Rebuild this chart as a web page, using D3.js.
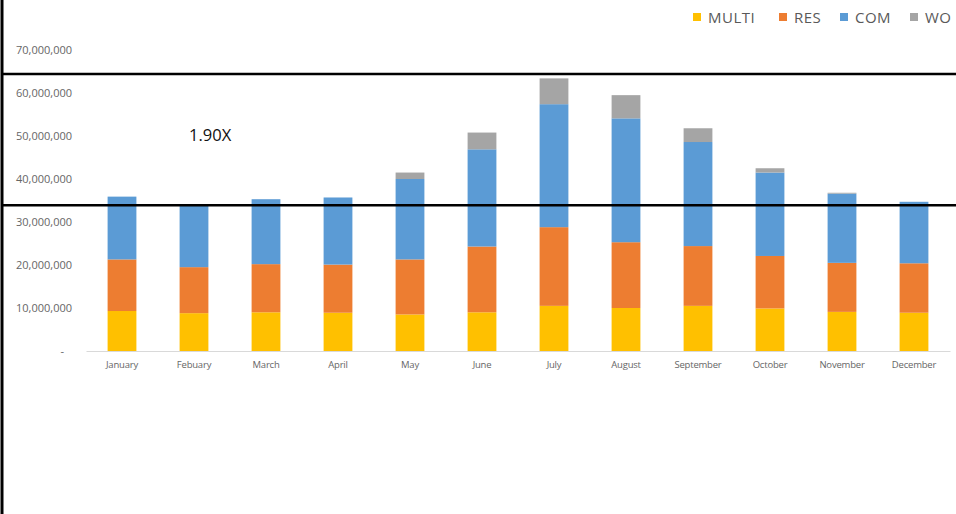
<!DOCTYPE html>
<html>
<head>
<meta charset="utf-8">
<script src="https://cdn.jsdelivr.net/npm/d3@7"></script>
<style>
  html, body { margin: 0; padding: 0; background: #fff; }
  svg { display: block; font-family: "Open Sans", sans-serif; }
</style>
</head>
<body>
<svg id="chart" width="956" height="514"></svg>
<script>
// data (values in units)
var months = ["January", "Febuary", "March", "April", "May", "June", "July",
              "August", "September", "October", "November", "December"];
var multi = [9300000, 8800000, 9000000, 8900000, 8500000, 9000000, 10500000, 10000000, 10500000, 9900000, 9100000, 8900000];
var res   = [12000000, 10700000, 11200000, 11200000, 12800000, 15300000, 18300000, 15300000, 13900000, 12200000, 11400000, 11500000];
var com   = [14600000, 14400000, 15100000, 15600000, 18700000, 22600000, 28600000, 28800000, 24200000, 19400000, 16100000, 14300000];
var wo    = [0, 0, 0, 0, 1500000, 3900000, 6000000, 5400000, 3200000, 1000000, 200000, 0];
var seriesNames = ["MULTI", "RES", "COM", "WO"];
var seriesColors = ["#FFC000", "#ED7D31", "#5B9BD5", "#A5A5A5"];
var yTicks = [0, 10000000, 20000000, 30000000, 40000000, 50000000, 60000000, 70000000];
var baseLevel = 33900000;   // lower black line
var ratio = 1.90;           // upper line = ratio * lower line
var ratioLabel = "1.90X";

(function () {
    var svg = d3.select("#chart");

    var rows = months.map(function (m, i) {
        return { month: m, MULTI: multi[i], RES: res[i], COM: com[i], WO: wo[i] };
    });

    var x = d3.scaleBand()
        .domain(months)
        .range([86, 950])
        .paddingInner(0.6)
        .paddingOuter(0.3);

    var y = d3.scaleLinear()
        .domain([0, 70000000])
        .range([351, 50]);

    var color = d3.scaleOrdinal().domain(seriesNames).range(seriesColors);

    // y axis labels
    var fmt = d3.format(",");
    var yAxis = d3.axisLeft(y)
        .tickValues(yTicks)
        .tickSize(0)
        .tickPadding(0)
        .tickFormat(function (d) { return d === 0 ? "-" : fmt(d); });

    var gy = svg.append("g")
        .attr("transform", "translate(72,0)")
        .call(yAxis);
    gy.select(".domain").remove();
    gy.selectAll("text")
        .attr("fill", "#666")
        .style("font-size", "11px")
        .style("font-family", "Open Sans, sans-serif");
    gy.selectAll("text").filter(function (d) { return d === 0; }).attr("dx", -8);

    // x axis
    var xAxis = d3.axisBottom(x).tickSize(0).tickPadding(10);
    var gx = svg.append("g")
        .attr("transform", "translate(0," + y(0) + ")")
        .call(xAxis);
    gx.select(".domain").attr("stroke", "#d9d9d9").attr("stroke-width", 1);
    gx.selectAll("text")
        .attr("fill", "#666")
        .style("font-size", "9.5px")
        .style("letter-spacing", "-0.2px")
        .style("font-family", "Open Sans, sans-serif");

    // stacked bars
    var stack = d3.stack().keys(seriesNames);
    var layers = stack(rows);

    svg.append("g").selectAll("g")
        .data(layers)
        .enter()
        .append("g")
        .attr("fill", function (d) { return color(d.key); })
        .selectAll("rect")
        .data(function (d) { return d; })
        .enter()
        .append("rect")
        .attr("x", function (d) { return x(d.data.month); })
        .attr("width", x.bandwidth())
        .attr("y", function (d) { return y(d[1]); })
        .attr("height", function (d) { return y(d[0]) - y(d[1]); });

    // annotation lines
    var lines = [baseLevel, baseLevel * ratio];
    svg.append("g").selectAll("line")
        .data(lines)
        .enter()
        .append("line")
        .attr("x1", 2)
        .attr("x2", 956)
        .attr("y1", function (d) { return y(d); })
        .attr("y2", function (d) { return y(d); })
        .attr("stroke", "#000")
        .attr("stroke-width", 2.5);

    svg.append("line")
        .attr("x1", 2).attr("x2", 2)
        .attr("y1", 0).attr("y2", 514)
        .attr("stroke", "#000")
        .attr("stroke-width", 3);

    svg.append("text")
        .attr("x", 189)
        .attr("y", 141)
        .attr("fill", "#111")
        .style("font-size", "16.5px")
        .text(ratioLabel);

    // legend
    var legendX = [693, 779, 840, 910];
    var lg = svg.append("g").selectAll("g")
        .data(seriesNames)
        .enter()
        .append("g")
        .attr("transform", function (d, i) { return "translate(" + legendX[i] + ",0)"; });
    lg.append("rect")
        .attr("x", 0).attr("y", 13)
        .attr("width", 8).attr("height", 8)
        .attr("fill", function (d) { return color(d); });
    lg.append("text")
        .attr("x", 15)
        .attr("y", 22.5)
        .attr("fill", "#595959")
        .style("font-size", "15px")
        .style("letter-spacing", "0.5px")
        .text(function (d) { return d; });
})();
</script>
</body>
</html>
